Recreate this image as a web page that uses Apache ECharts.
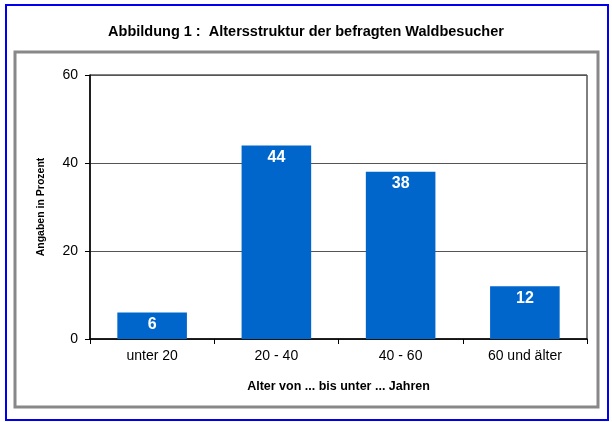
<!DOCTYPE html>
<html>
<head>
<meta charset="utf-8">
<script src="https://cdn.jsdelivr.net/npm/echarts@6/dist/echarts.min.js"></script>
<style>
  html, body { margin: 0; padding: 0; background: #fff; }
  #chart { width: 612px; height: 422px; }
</style>
</head>
<body>
<div id="chart"></div>
<script>
const categories = ['unter 20', '20 - 40', '40 - 60', '60 und älter']
const values = [6, 44, 38, 12]
const yTicks = [0, 20, 40, 60]

const chart = echarts.init(document.getElementById('chart'), null, { renderer: 'canvas' })

const font = 'Liberation Sans, Arial, sans-serif'

chart.setOption({
  backgroundColor: '#fff',
  animation: false,
  title: {
    text: 'Abbildung 1 :  Altersstruktur der befragten Waldbesucher',
    left: 'center',
    top: 19,
    textStyle: { fontFamily: font, fontSize: 14.5, fontWeight: 'bold', color: '#000' },
  },
  graphic: [
    {
      type: 'rect',
      shape: { x: 6, y: 5, width: 602, height: 415 },
      style: { fill: 'none', stroke: '#0000ee', lineWidth: 2 },
      silent: true,
    },
    {
      type: 'rect',
      shape: { x: 15, y: 52, width: 583, height: 355 },
      style: { fill: 'none', stroke: '#888', lineWidth: 3 },
      silent: true,
    },
  ],
  grid: {
    left: 90,
    top: 75,
    width: 497,
    height: 264,
    show: true,
    borderColor: '#000',
    borderWidth: 1,
  },
  xAxis: {
    type: 'category',
    data: categories,
    name: 'Alter von ... bis unter ... Jahren',
    nameLocation: 'middle',
    nameGap: 41,
    nameTextStyle: { fontFamily: font, fontSize: 12.5, fontWeight: 'bold', color: '#000' },
    axisLine: { lineStyle: { color: '#000', width: 1.5 } },
    axisTick: { show: true, alignWithLabel: false, length: 5, lineStyle: { color: '#000' } },
    axisLabel: { fontFamily: font, fontSize: 14, color: '#000', margin: 10 },
  },
  yAxis: {
    type: 'value',
    min: yTicks[0],
    max: yTicks[yTicks.length - 1],
    interval: 20,
    name: 'Angaben in Prozent',
    nameLocation: 'middle',
    nameGap: 43,
    nameTextStyle: { fontFamily: font, fontSize: 10.5, fontWeight: 'bold', color: '#000' },
    axisLine: { show: true, lineStyle: { color: '#000', width: 1.5 } },
    axisTick: { show: true, length: 5, lineStyle: { color: '#000' } },
    axisLabel: { fontFamily: font, fontSize: 14, color: '#000', margin: 12 },
    splitLine: { show: true, lineStyle: { color: '#555', width: 1 } },
  },
  series: [
    {
      type: 'bar',
      data: values,
      barWidth: '56%',
      itemStyle: { color: '#0066cc' },
      label: {
        show: true,
        position: 'insideTop',
        distance: 4,
        fontFamily: font,
        fontSize: 16,
        fontWeight: 'bold',
        color: '#fff',
      },
    },
  ],
})
</script>
</body>
</html>
